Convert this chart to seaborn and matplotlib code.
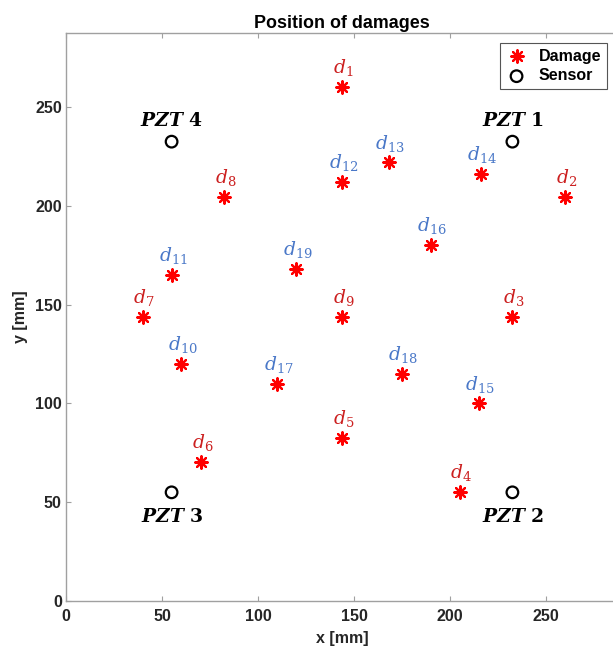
import matplotlib
matplotlib.use("Agg")
import matplotlib.pyplot as plt
import seaborn as sns
import pandas as pd

# Damage locations on the plate [mm]
damage_ids = list(range(1, 20))
damage_x = [143.75, 260, 232.5, 205, 143.75, 70.5, 40, 82.5, 143.75,
            60, 55, 143.75, 168, 216, 215, 190, 110, 175, 120]
damage_y = [260, 204.5, 143.75, 55, 82.5, 70.5, 143.75, 204.5, 143.75,
            120, 165, 212, 222, 216, 100, 180, 110, 115, 168]

# PZT sensor locations [mm]
sensor_ids = [1, 2, 3, 4]
sensor_x = [232.5, 232.5, 55, 55]
sensor_y = [232.5, 55, 55, 232.5]

plate_size = 287.5
ticks = [0, 50, 100, 150, 200, 250]

damages = pd.DataFrame({"id": damage_ids, "x": damage_x, "y": damage_y})
sensors = pd.DataFrame({"id": sensor_ids, "x": sensor_x, "y": sensor_y})

sns.set_theme(style="white")
plt.rcParams["font.family"] = ["Liberation Sans", "DejaVu Sans"]
plt.rcParams["mathtext.fontset"] = "custom"
plt.rcParams["mathtext.rm"] = "DejaVu Serif"
plt.rcParams["mathtext.it"] = "DejaVu Serif:italic"
plt.rcParams["mathtext.bf"] = "DejaVu Serif:bold"
plt.rcParams["mathtext.bfit"] = "DejaVu Serif:bold:italic"

W, H = 613, 648
fig = plt.figure(figsize=(W / 100, H / 100), dpi=100)
ax = fig.add_axes([66 / W, (H - 601) / H, 552 / W, 568 / H])

text_col = "#262626"
spine_col = "#a0a0a0"
red_lbl = "#cc2020"
blue_lbl = "#4a78c8"

sns.scatterplot(data=damages, x="x", y="y", ax=ax, marker=(8, 2, 0), s=80,
                color="red", edgecolor="red", linewidth=1.6, label="Damage",
                zorder=3)
sns.scatterplot(data=sensors, x="x", y="y", ax=ax, marker="o", s=70,
                facecolor="none", edgecolor="black", linewidth=1.6,
                label="Sensor", zorder=3)

# damage labels: d_1..d_9 in red, d_10..d_19 in blue
for did, x, y in zip(damage_ids, damage_x, damage_y):
    col = red_lbl if did <= 9 else blue_lbl
    ax.annotate(rf"$d_{{{did}}}$", (x, y), xytext=(1, 10),
                textcoords="offset points", ha="center", va="baseline",
                fontsize=13.5, color=col, zorder=4)

# sensor labels: above the upper pair, below the lower pair
for sid, x, y in zip(sensor_ids, sensor_x, sensor_y):
    above = y > plate_size / 2
    ax.annotate(rf"$\mathbfit{{PZT}}\ \mathbf{{{sid}}}$", (x, y),
                xytext=(0, 11 if above else -11), textcoords="offset points",
                ha="center", va="baseline" if above else "top",
                fontsize=13.5, color="black", zorder=4)

ax.set_xlim(0, plate_size)
ax.set_ylim(0, plate_size)
ax.set_xticks(ticks)
ax.set_yticks(ticks)
ax.set_xticklabels([str(t) for t in ticks])
ax.set_yticklabels([str(t) for t in ticks])

for s in ax.spines.values():
    s.set_visible(True)
    s.set_color(spine_col)
    s.set_linewidth(1.0)

ax.tick_params(axis="both", which="both", direction="in", length=3.6,
               width=0.8, color=spine_col, top=True, right=True,
               bottom=True, left=True, labelsize=11.5, labelcolor=text_col)
ax.tick_params(axis="x", pad=6)
ax.tick_params(axis="y", pad=3)
for lbl in ax.get_xticklabels() + ax.get_yticklabels():
    lbl.set_fontweight("bold")

ax.set_title("Position of damages", fontsize=12.9, fontweight="bold",
             color="black", pad=3.5)
ax.set_xlabel("x [mm]", fontsize=11.5, fontweight="bold", color=text_col)
ax.set_ylabel("y [mm]", fontsize=11.5, fontweight="bold", color=text_col)
ax.xaxis.set_label_coords(0.5, (601 - 631) / 568)
ax.yaxis.set_label_coords((28 - 66) / 552, 0.5)

leg = ax.legend(loc="upper right", bbox_to_anchor=(607 / W, (H - 43) / H),
                bbox_transform=fig.transFigure, borderaxespad=0,
                frameon=True, fancybox=False, framealpha=1,
                edgecolor="#555555", prop={"weight": "bold", "size": 11.5},
                handletextpad=0.7, labelspacing=0.3, borderpad=0.35,
                handlelength=1.4)
leg.get_frame().set_linewidth(0.8)
for t in leg.get_texts():
    t.set_color("black")

fig.savefig("out.png", dpi=100)
